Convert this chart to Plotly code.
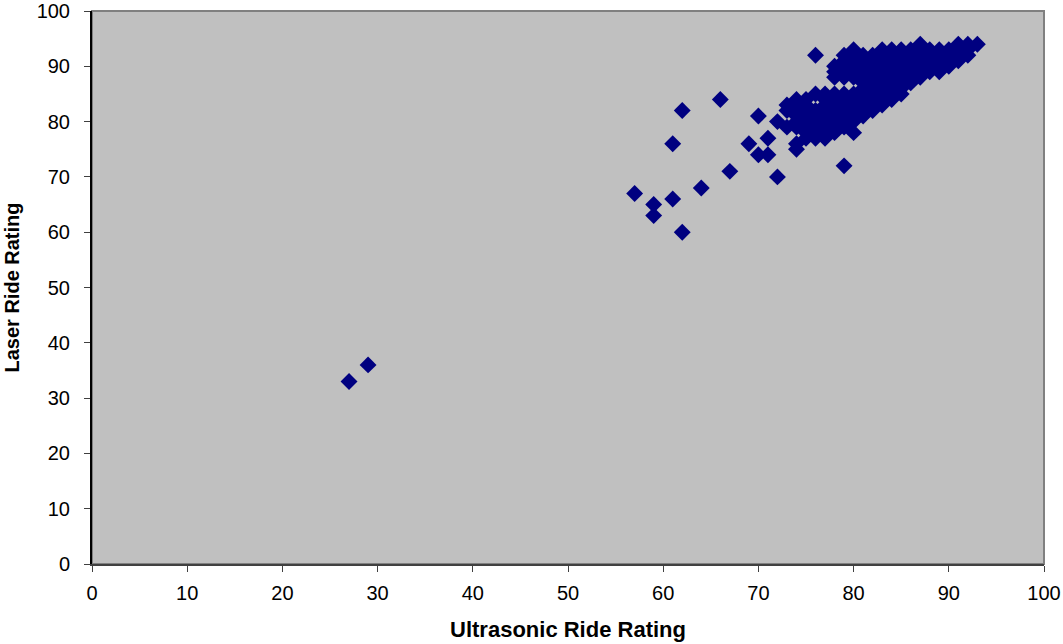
import plotly.graph_objects as go

# Isolated points (Ultrasonic, Laser)
outlier_x = [27, 29, 57, 59, 59, 61, 61, 62, 62, 64, 66, 67, 69, 70, 70, 71, 71, 72, 72, 79, 80, 76, 73]
outlier_y = [33, 36, 67, 65, 63, 66, 76, 82, 60, 68, 84, 71, 76, 81, 74, 74, 77, 70, 80, 72, 78, 92, 79]

# Dense cluster, read row by row: laser rating -> ultrasonic ratings present
cluster_laser = [94, 93, 92, 91, 90, 89, 88, 87, 86, 85, 84, 83, 82, 81, 80, 79, 78, 77, 76, 75]
cluster_ultra = [
    [87, 91, 92, 93],
    [80, 83, 84, 85, 86, 88, 89, 90, 92],
    [79, 81, 82, 83, 84, 85, 86, 87, 88, 89, 90, 91, 92],
    [79, 80, 81, 82, 83, 84, 85, 86, 87, 88, 89, 90, 91],
    [78, 79, 80, 81, 82, 83, 84, 85, 86, 87, 88, 89, 90],
    [78, 79, 80, 81, 82, 83, 84, 85, 86, 87, 88, 89],
    [78, 79, 80, 81, 82, 83, 84, 85, 86, 87],
    [81, 82, 83, 84, 85, 86],
    [81, 82, 83, 84, 85],
    [76, 77, 78, 79, 80, 81, 82, 83, 84, 85],
    [74, 75, 77, 78, 79, 80, 81, 82, 83, 84],
    [73, 74, 75, 77, 79, 80, 81, 82, 83],
    [73, 74, 75, 76, 77, 78, 79, 80, 81, 82],
    [74, 75, 76, 77, 78, 79, 80, 81],
    [74, 75, 76, 77, 78, 79, 80],
    [74, 75, 76, 77, 78, 79],
    [75, 77, 78],
    [75, 76, 77],
    [74],
    [74],
]

x_title = "Ultrasonic Ride Rating"
y_title = "Laser Ride Rating"
ticks = [0, 10, 20, 30, 40, 50, 60, 70, 80, 90, 100]

xs = list(outlier_x)
ys = list(outlier_y)
for lv, row in zip(cluster_laser, cluster_ultra):
    for u in row:
        xs.append(u)
        ys.append(lv)

fig = go.Figure()
fig.add_trace(go.Scatter(
    x=xs, y=ys, mode="markers",
    marker=dict(symbol="diamond", size=13, color="#000080", line=dict(width=0)),
    hoverinfo="x+y",
))

font_family = "Liberation Sans, Arial, sans-serif"
fig.update_layout(
    width=1063, height=644,
    margin=dict(l=92, r=19, t=11, b=80),
    paper_bgcolor="white",
    plot_bgcolor="#C0C0C0",
    showlegend=False,
    font=dict(family=font_family, size=20, color="black"),
    shapes=[dict(type="rect", xref="paper", yref="paper", x0=0, y0=0, x1=1, y1=1,
                 line=dict(color="#808080", width=2), layer="below")],
)
fig.update_xaxes(
    range=[0, 100], tickvals=ticks, showgrid=False, zeroline=False,
    showline=True, linecolor="#404040", linewidth=2, automargin=False,
    ticks="outside", ticklen=6, tickcolor="#404040", tickwidth=1,
    ticklabelstandoff=4,
    tickfont=dict(size=20),
    title=dict(text="<b>" + x_title + "</b>", font=dict(size=22), standoff=19),
)
fig.update_yaxes(
    range=[0, 100], tickvals=ticks, showgrid=False, zeroline=False,
    showline=True, linecolor="black", linewidth=2, automargin=False,
    ticks="outside", ticklen=6, tickcolor="#404040", tickwidth=1,
    ticklabelstandoff=10,
    tickfont=dict(size=20),
    title=dict(text="<b>" + y_title + "</b>", font=dict(size=20), standoff=12),
)

fig.write_html("out.html", config={"displayModeBar": False},
               post_script="document.body.style.margin='0px';")
